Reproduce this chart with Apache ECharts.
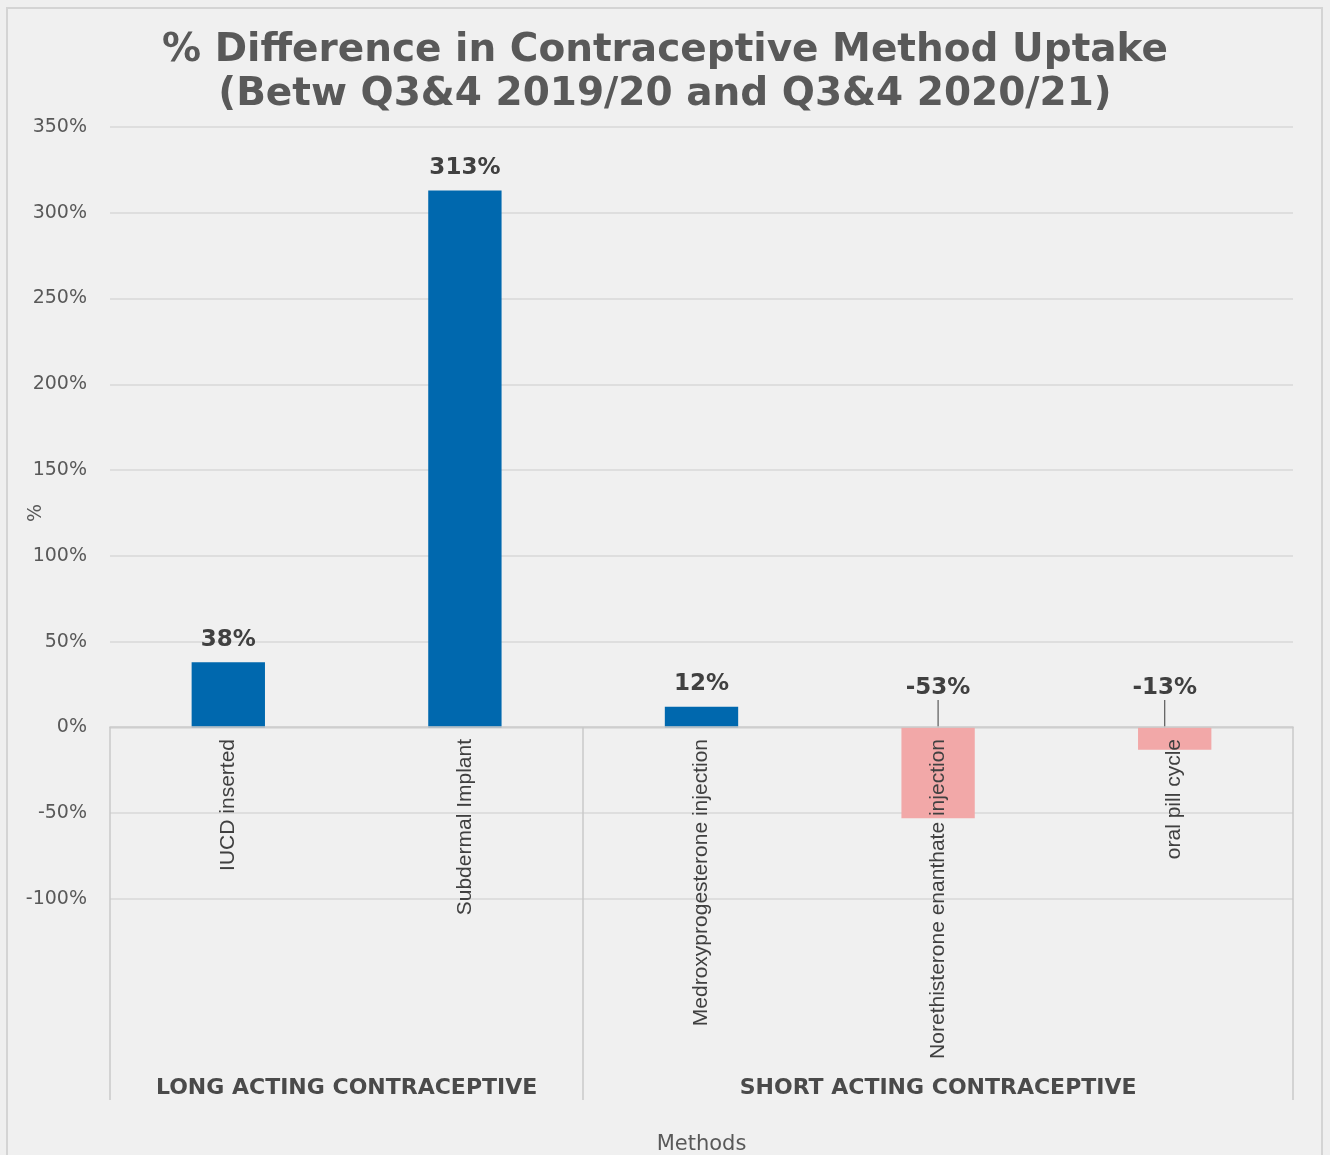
<!DOCTYPE html>
<html>
<head>
<meta charset="utf-8">
<script src="https://cdn.jsdelivr.net/npm/echarts@6/dist/echarts.min.js"></script>
<style>
  html, body { margin: 0; padding: 0; background: #efefef; }
  #chart { width: 1330px; height: 1155px; }
</style>
</head>
<body>
<div id="chart"></div>
<script>
// Percentage change in uptake per contraceptive method
const methods = [
  'IUCD inserted',
  'Subdermal Implant',
  'Medroxyprogesterone injection',
  'Norethisterone enanthate injection',
  'oral pill cycle'
];
const pctChange = [38, 313, 12, -53, -13];

// Method groups: name and [start, end) position along the category axis
const groupNames = ['LONG ACTING CONTRACEPTIVE', 'SHORT ACTING CONTRACEPTIVE'];
const groupSpans = [[0, 2], [2, 5]];

const yTicks = { min: -100, max: 350, step: 50 };

const POS_COLOR = '#0068ae';
const NEG_COLOR = '#f2a8a8';
const GRID_COLOR = '#d9d9d9';

// the category axis sits on the 0% line, which is this far above the grid bottom
const ZERO_OFFSET = -172;

const groupEdges = [0].concat(groupSpans.map(s => s[1]));
const groupCenters = groupSpans.map(s => (s[0] + s[1]) / 2);

const chart = echarts.init(document.getElementById('chart'), null, { renderer: 'canvas' });

const option = {
  backgroundColor: '#efefef',
  animation: false,
  graphic: [{
    type: 'rect',
    shape: { x: 7, y: 8, width: 1315, height: 1170 },
    style: { fill: '#f0f0f0', stroke: '#d4d4d4', lineWidth: 2 },
    z: -10
  }],
  title: {
    text: '% Difference in Contraceptive Method Uptake\n(Betw Q3&4 2019/20 and Q3&4 2020/21)',
    left: 'center',
    top: 24,
    textStyle: {
      fontFamily: 'DejaVu Sans',
      fontWeight: 'bold',
      fontSize: 39,
      lineHeight: 44,
      color: '#595959'
    }
  },
  grid: {
    left: 110, right: 37, top: 127, bottom: 256,
    containLabel: false,
    outerBoundsMode: 'none'
  },
  xAxis: [{
    type: 'category',
    data: methods,
    position: 'bottom',
    offset: ZERO_OFFSET,
    z: 5,
    axisLine: { onZero: false, lineStyle: { color: '#c9c9c9', width: 1.5 } },
    axisTick: { show: false },
    splitLine: { show: false },
    axisLabel: {
      rotate: 90,
      margin: 12,
      interval: 0,
      fontFamily: 'Liberation Sans Narrow, Liberation Sans, sans-serif',
      fontSize: 21,
      color: '#404040'
    }
  }, {
    type: 'value',
    min: 0,
    max: methods.length,
    position: 'bottom',
    offset: ZERO_OFFSET,
    name: 'Methods',
    nameLocation: 'middle',
    nameGap: 407,
    nameMoveOverlap: false,
    nameTextStyle: { fontFamily: 'DejaVu Sans', fontSize: 21, color: '#595959' },
    axisLine: { show: false, onZero: false },
    splitLine: { show: false },
    axisTick: {
      show: true,
      customValues: groupEdges,
      length: 373,
      lineStyle: { color: '#c9c9c9', width: 1.5 }
    },
    axisLabel: {
      show: true,
      customValues: groupCenters,
      margin: 350,
      formatter: v => groupNames[groupCenters.indexOf(v)] || '',
      fontFamily: 'DejaVu Sans',
      fontWeight: 'bold',
      fontSize: 22,
      color: '#4a4a4a'
    }
  }],
  yAxis: {
    type: 'value',
    min: yTicks.min,
    max: yTicks.max,
    interval: yTicks.step,
    name: '%',
    nameLocation: 'middle',
    nameRotate: 90,
    nameGap: 64,
    nameMoveOverlap: false,
    nameTextStyle: { fontFamily: 'DejaVu Sans', fontSize: 19, color: '#595959' },
    axisLine: { show: false },
    axisTick: { show: false },
    splitLine: { lineStyle: { color: GRID_COLOR, width: 1.5 } },
    axisLabel: {
      margin: 23,
      formatter: v => v + '%',
      fontFamily: 'DejaVu Sans',
      fontSize: 19,
      color: '#595959'
    }
  },
  series: [{
    type: 'bar',
    xAxisIndex: 0,
    barWidth: '31%',
    data: pctChange.map(v => ({
      value: v,
      itemStyle: { color: v >= 0 ? POS_COLOR : NEG_COLOR },
      labelLine: { show: v < 0 }
    })),
    label: {
      show: true,
      position: 'top',
      distance: 11,
      formatter: p => p.value + '%',
      fontFamily: 'DejaVu Sans',
      fontWeight: 'bold',
      fontSize: 23,
      color: '#404040'
    },
    labelLine: {
      show: false,
      lineStyle: { color: '#595959', width: 1.2 }
    },
    // labels of decreases sit above the zero line, tied to their bar by a leader line
    labelLayout: p => {
      if (pctChange[p.dataIndex] >= 0) return {};
      const cx = p.rect.x + p.rect.width / 2;
      const shift = p.dataIndex === methods.length - 1 ? -10 : 0;
      return {
        x: cx + shift,
        y: p.rect.y - 39,
        align: 'center',
        verticalAlign: 'middle'
      };
    }
  }]
};

chart.setOption(option);
</script>
</body>
</html>
